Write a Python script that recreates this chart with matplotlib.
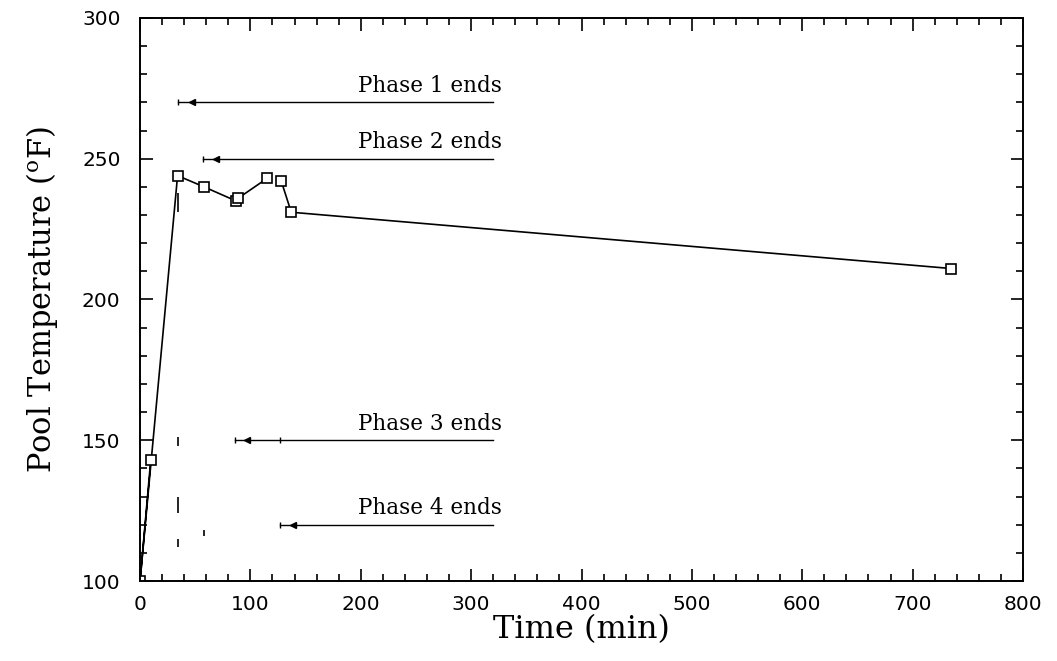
import matplotlib.pyplot as plt
from matplotlib.ticker import MultipleLocator

# pool temperature readings (two connected runs)
time_a = [9.7, 0, 34, 58, 87, 89, 115]
temp_a = [143, 100, 244, 240, 235, 236, 243]
time_b = [128, 137, 735]
temp_b = [242, 231, 211]

# small vertical marks left in the plot area
mark_x = [34, 34, 34, 58, 34]
mark_lo = [148, 124, 112, 116, 231]
mark_hi = [151, 130, 115, 118, 238]

# phase end annotations: level, arrow start, arrowhead, label
phase_labels = ["Phase 1 ends", "Phase 2 ends", "Phase 3 ends", "Phase 4 ends"]
phase_temp = [270, 250, 150, 120]
phase_start = [34, 57, 86, 127]
phase_head = [47, 69, 97, 139]
line_end = 320

plt.rcParams['mathtext.fontset'] = 'dejavuserif'

fig = plt.figure(figsize=(10.57, 6.61), dpi=100)
ax = fig.add_axes([0.1325, 0.121, 0.8353, 0.8518])

ax.plot(time_a, temp_a, color='black', lw=1.2, marker='s', ms=6.5,
        mfc='white', mec='black', mew=1.2)
ax.plot(time_b, temp_b, color='black', lw=1.2, marker='s', ms=6.5,
        mfc='white', mec='black', mew=1.2)
ax.vlines(mark_x, mark_lo, mark_hi, color='black', lw=1.2)

for lab, yv, x0, xh in zip(phase_labels, phase_temp, phase_start, phase_head):
    ax.plot([x0, line_end], [yv, yv], color='black', lw=1.0)
    ax.plot([x0], [yv], marker='|', ms=5, color='black', mew=1.0)
    ax.plot([xh], [yv], marker='<', ms=5, color='black')
    ax.text(line_end + 8, yv + 2, lab, ha='right', va='bottom',
            fontsize=15.5, family='DejaVu Serif')
# extra tick on the phase 3 arrow
ax.plot([127], [150], marker='|', ms=5, color='black', mew=1.0)

ax.set_xlim(0, 800)
ax.set_ylim(100, 300)
ax.xaxis.set_major_locator(MultipleLocator(100))
ax.xaxis.set_minor_locator(MultipleLocator(20))
ax.yaxis.set_major_locator(MultipleLocator(50))
ax.yaxis.set_minor_locator(MultipleLocator(10))
ax.tick_params(which='both', direction='in', top=True, right=True,
               width=1.2, labelsize=14.5)
ax.tick_params(axis='x', which='major', pad=10)
ax.tick_params(axis='y', which='major', pad=14)
ax.tick_params(which='major', length=9)
ax.tick_params(which='minor', length=5)
for lbl in ax.get_xticklabels() + ax.get_yticklabels():
    lbl.set_family('DejaVu Sans')
for s in ax.spines.values():
    s.set_linewidth(1.4)

ax.set_xlabel('Time (min)', fontsize=23, family='DejaVu Serif', labelpad=0)
ax.set_ylabel(r'Pool Temperature ($^{\mathrm{o}}$F)', fontsize=22,
              family='DejaVu Serif', labelpad=16)

fig.savefig('out.png', dpi=100)
